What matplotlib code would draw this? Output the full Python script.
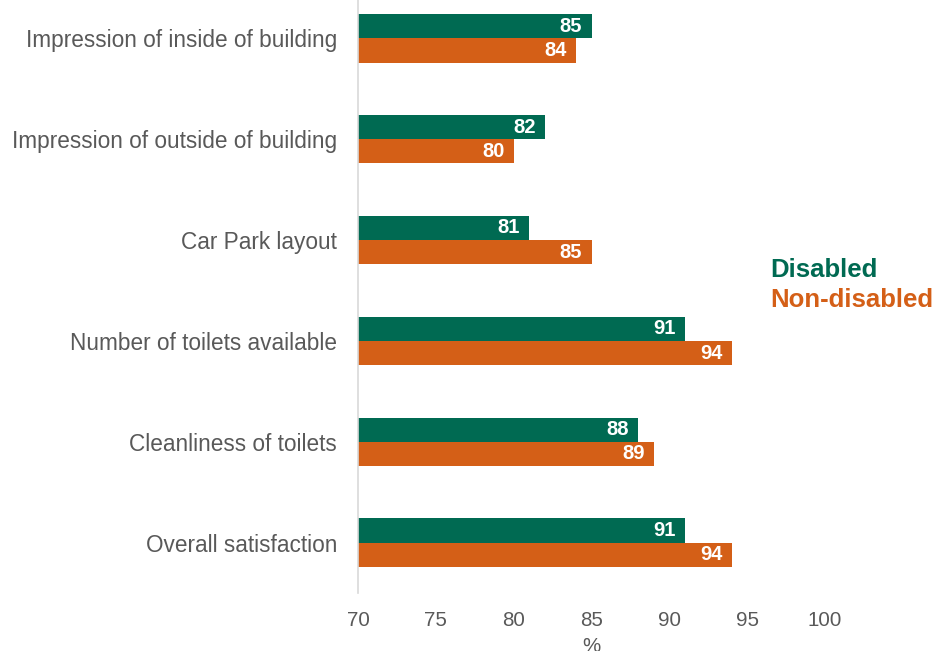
import matplotlib
matplotlib.use("Agg")
import matplotlib.pyplot as plt
import numpy as np

plt.rcParams['font.family'] = ['Liberation Sans', 'DejaVu Sans']

categories = [
    "Impression of inside of building",
    "Impression of outside of building",
    "Car Park layout",
    "Number of toilets available",
    "Cleanliness of toilets",
    "Overall satisfaction",
]
disabled = [85, 82, 81, 91, 88, 91]
non_disabled = [84, 80, 85, 94, 89, 94]
xticks = [70, 75, 80, 85, 90, 95, 100]

green = "#006A52"
orange = "#D45F17"
grey_text = "#595959"

fig = plt.figure(figsize=(9.34, 6.51), dpi=100)
ax = fig.add_axes([358 / 934, 1 - 593 / 651, 467 / 934, 605 / 651])

y = np.arange(len(categories))
h = 0.24
ax.barh(y - h / 2, disabled, height=h, color=green, left=0)
ax.barh(y + h / 2, non_disabled, height=h, color=orange, left=0)

for yi, v in zip(y, disabled):
    ax.text(v - 0.6, yi - h / 2, f"{v}", ha="right", va="center",
            color="white", fontsize=14.5, fontweight="bold")
for yi, v in zip(y, non_disabled):
    ax.text(v - 0.6, yi + h / 2, f"{v}", ha="right", va="center",
            color="white", fontsize=14.5, fontweight="bold")

ax.set_xlim(70, 100)
ax.set_ylim(len(categories) - 0.5, -0.5)
ax.set_yticks(y)
ax.set_yticklabels(categories, fontsize=16.3, color=grey_text)
ax.set_xticks(xticks)
ax.set_xticklabels([str(t) for t in xticks], fontsize=14.8, color=grey_text)
ax.tick_params(axis="both", length=0)
ax.tick_params(axis="y", pad=15)
ax.tick_params(axis="x", pad=13)
ax.set_xlabel("%", fontsize=14.8, color=grey_text, labelpad=5)

for side in ["top", "right", "bottom"]:
    ax.spines[side].set_visible(False)
ax.spines["left"].set_color("#D9D9D9")
ax.spines["left"].set_linewidth(1.2)

fig.text(770 / 934, 1 - 270 / 651, "Disabled", color=green, fontsize=18.5,
         fontweight="bold", ha="left", va="center")
fig.text(770 / 934, 1 - 300 / 651, "Non-disabled", color=orange, fontsize=18.5,
         fontweight="bold", ha="left", va="center")

fig.savefig("out.png", dpi=100)
